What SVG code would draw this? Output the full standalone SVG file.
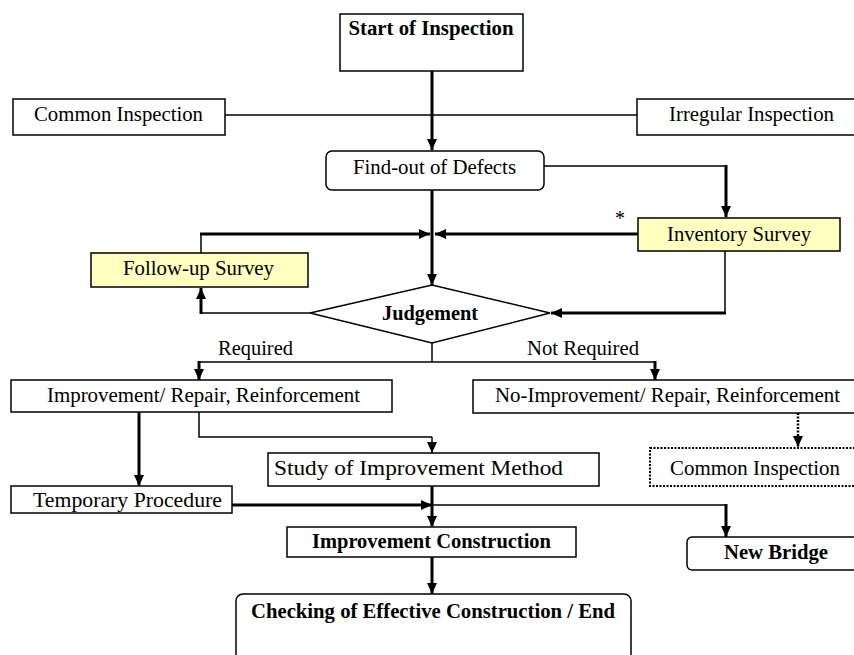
<svg xmlns="http://www.w3.org/2000/svg" width="854" height="655" viewBox="0 0 854 655">
<style>
.box{fill:#fff;stroke:#000;stroke-width:1.5}
.yel{fill:#ffffc0;stroke:#000;stroke-width:1.5}
.dot{fill:#fff;stroke:#000;stroke-width:2;stroke-dasharray:2 1.5}
.t{font-family:"Liberation Serif","Times New Roman",serif;font-size:20px;fill:#000;text-anchor:middle}
.b{font-weight:bold}
.thin{fill:none;stroke:#000;stroke-width:1.5}
.thick{fill:none;stroke:#000;stroke-width:3}
.dash{fill:none;stroke:#000;stroke-width:2.5;stroke-dasharray:2 1.5}
</style>
<defs>
<marker id="ah" markerUnits="userSpaceOnUse" markerWidth="12" markerHeight="12" viewBox="0 0 12 12" refX="11" refY="6" orient="auto">
<path d="M0,1 L11,6 L0,11 Z" fill="#000"/>
</marker>
</defs>
<rect width="854" height="655" fill="#fff"/>

<g id="connectors">
<line class="thick" x1="432" y1="71" x2="432" y2="150" marker-end="url(#ah)"/>
<line class="thin" x1="225" y1="115" x2="637" y2="115"/>
<polyline class="thin" points="544,166 726,166"/>
<line class="thick" x1="726" y1="165" x2="726" y2="217" marker-end="url(#ah)"/>
<line class="thick" x1="638" y1="234" x2="435" y2="234" marker-end="url(#ah)"/>
<line class="thin" x1="201" y1="253" x2="201" y2="234"/>
<line class="thick" x1="200" y1="234" x2="430" y2="234" marker-end="url(#ah)"/>
<line class="thick" x1="432" y1="190" x2="432" y2="285" marker-end="url(#ah)"/>
<line class="thin" x1="310" y1="313" x2="201" y2="313"/>
<line class="thick" x1="201" y1="314" x2="201" y2="288" marker-end="url(#ah)"/>
<line class="thin" x1="725" y1="251" x2="725" y2="313"/>
<line class="thick" x1="726" y1="313" x2="551" y2="313" marker-end="url(#ah)"/>
<line class="thin" x1="432" y1="343" x2="432" y2="362"/>
<line class="thin" x1="199" y1="362" x2="655" y2="362"/>
<line class="thick" x1="199" y1="361" x2="199" y2="380" marker-end="url(#ah)"/>
<line class="thick" x1="655" y1="361" x2="655" y2="380" marker-end="url(#ah)"/>
<line class="thick" x1="139" y1="412" x2="139" y2="486" marker-end="url(#ah)"/>
<polyline class="thin" points="199,412 199,437 432,437"/>
<line class="thin" x1="432" y1="437" x2="432" y2="453" marker-end="url(#ah)"/>
<line class="dash" x1="798" y1="413" x2="798" y2="447" marker-end="url(#ah)"/>
<line class="thick" x1="432" y1="486" x2="432" y2="527" marker-end="url(#ah)"/>
<line class="thick" x1="232" y1="505" x2="432" y2="505" marker-end="url(#ah)"/>
<line class="thin" x1="432" y1="505" x2="726" y2="505"/>
<line class="thick" x1="726" y1="504" x2="726" y2="537" marker-end="url(#ah)"/>
<line class="thick" x1="432" y1="557" x2="432" y2="594" marker-end="url(#ah)"/>
</g>

<g id="start"><rect class="box" x="340" y="14" width="183" height="57"/><text class="t b" x="431" y="35" textLength="165" lengthAdjust="spacingAndGlyphs">Start of Inspection</text></g>
<g id="common1"><rect class="box" x="13" y="99" width="212" height="36"/><text class="t" x="118.5" y="121" textLength="169" lengthAdjust="spacingAndGlyphs">Common Inspection</text></g>
<g id="irregular"><rect class="box" x="637" y="99" width="222" height="36"/><text class="t" x="751.5" y="121" textLength="165" lengthAdjust="spacingAndGlyphs">Irregular Inspection</text></g>
<g id="findout"><rect class="box" x="326" y="151" width="218" height="39" rx="6"/><text class="t" x="434.5" y="174" textLength="163" lengthAdjust="spacingAndGlyphs">Find-out of Defects</text></g>
<g id="inventory"><rect class="yel" x="638" y="218" width="202" height="33"/><text class="t" x="739" y="241" textLength="144" lengthAdjust="spacingAndGlyphs">Inventory Survey</text></g>
<g id="asterisk"><text class="t" x="620" y="225">*</text></g>
<g id="followup"><rect class="yel" x="91" y="253" width="217" height="34"/><text class="t" x="198.5" y="275" textLength="151" lengthAdjust="spacingAndGlyphs">Follow-up Survey</text></g>
<g id="judgement"><polygon class="box" points="310,313 432,285 550,313 432,343"/><text class="t b" x="430" y="320" textLength="96" lengthAdjust="spacingAndGlyphs">Judgement</text></g>
<g id="labels"><text class="t" x="255.5" y="355" textLength="75" lengthAdjust="spacingAndGlyphs">Required</text><text class="t" x="583" y="355" textLength="112" lengthAdjust="spacingAndGlyphs">Not Required</text></g>
<g id="improvement"><rect class="box" x="11" y="380" width="381" height="32"/><text class="t" x="203.5" y="402" textLength="313" lengthAdjust="spacingAndGlyphs">Improvement/ Repair, Reinforcement</text></g>
<g id="noimprovement"><rect class="box" x="473" y="380" width="386" height="33"/><text class="t" x="667.5" y="402" textLength="345" lengthAdjust="spacingAndGlyphs">No-Improvement/ Repair, Reinforcement</text></g>
<g id="study"><rect class="box" x="268" y="453" width="331" height="33"/><text class="t" x="418.5" y="475" textLength="289" lengthAdjust="spacingAndGlyphs">Study of Improvement Method</text></g>
<g id="common2"><rect class="dot" x="650" y="448" width="209" height="38"/><text class="t" x="755" y="475" textLength="170" lengthAdjust="spacingAndGlyphs">Common Inspection</text></g>
<g id="temporary"><rect class="box" x="11" y="486" width="221" height="27"/><text class="t" x="127.5" y="507" textLength="189" lengthAdjust="spacingAndGlyphs">Temporary Procedure</text></g>
<g id="construction"><rect class="box" x="287" y="527" width="289" height="30"/><text class="t b" x="431.5" y="548" textLength="239" lengthAdjust="spacingAndGlyphs">Improvement Construction</text></g>
<g id="newbridge"><rect class="box" x="687" y="537" width="174" height="33" rx="5"/><text class="t b" x="776" y="559" textLength="104" lengthAdjust="spacingAndGlyphs">New Bridge</text></g>
<g id="checking"><rect class="box" x="236" y="594" width="395" height="70" rx="7"/><text class="t b" x="433" y="618" textLength="364" lengthAdjust="spacingAndGlyphs">Checking of Effective Construction / End</text></g>
</svg>
